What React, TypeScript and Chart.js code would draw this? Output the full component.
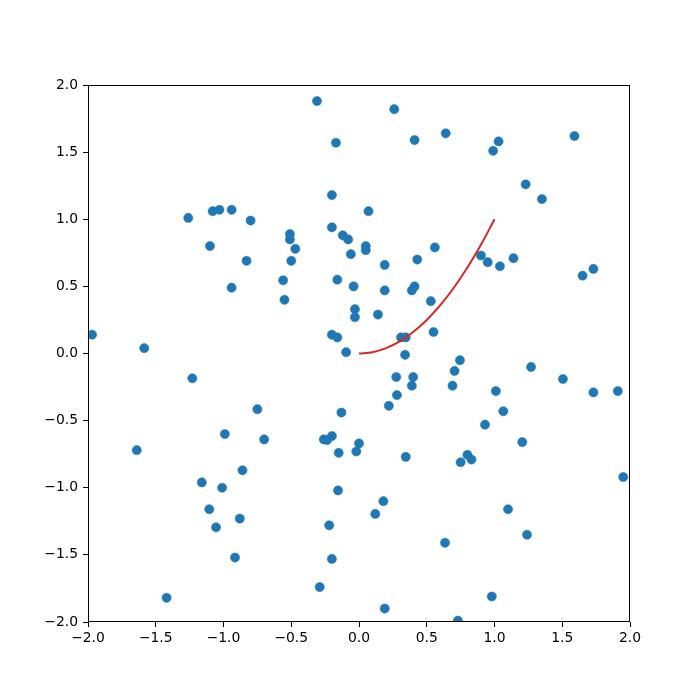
import React, { useEffect, useRef } from "react";
import { Chart, registerables } from "chart.js";

Chart.register(...registerables);

const scatterX: number[] = [
  -0.31, 0.26, 0.41, 0.64, -0.17, 0.99, 1.03, 1.59, 1.23, 1.35,
  0.07, 0.05, 0.05, 0.56, 0.43, 0.19, 0.90, 0.95, 1.04, 1.14,
  1.65, 1.73, -0.04, 0.19, 0.39, 0.41, 0.53, -0.03, -0.03, 0.14,
  0.31, 0.345, 0.55, 0.34, 0.745, -0.20, -1.26, -1.08, -1.03, -0.94,
  -0.80, -0.20, -0.12, -0.08, -0.51, -0.51, -0.47, -1.10, -0.06, -0.83,
  -0.50, -0.56, -0.16, -0.94, -0.55, -1.97, -1.585, -0.20, -0.16, -0.095,
  -1.23, -0.75, -0.13, -0.99, -0.70, -0.26, -0.235, -0.20, 0.00, -0.15,
  -0.02, -1.64, -0.86, -1.16, -1.01, -0.155, -1.105, -0.88, -1.055, -0.22,
  -0.915, -0.20, -0.29, -1.42, 0.275, 0.40, 0.705, 1.27, 0.39, 0.69,
  0.28, 1.505, 1.73, 1.91, 1.01, 0.22, 1.065, 0.93, 1.205, 0.345,
  0.80, 0.75, 0.83, 1.95, 0.18, 0.12, 1.10, 1.24, 0.635, 0.98,
  0.19, 0.73,
];
const scatterY: number[] = [
  1.88, 1.82, 1.59, 1.64, 1.57, 1.51, 1.58, 1.62, 1.26, 1.15,
  1.06, 0.80, 0.77, 0.79, 0.70, 0.66, 0.73, 0.68, 0.65, 0.71,
  0.58, 0.63, 0.50, 0.47, 0.47, 0.50, 0.39, 0.33, 0.27, 0.29,
  0.12, 0.12, 0.16, -0.01, -0.05, 1.18, 1.01, 1.06, 1.07, 1.07,
  0.99, 0.94, 0.88, 0.85, 0.89, 0.85, 0.78, 0.80, 0.74, 0.69,
  0.69, 0.545, 0.55, 0.49, 0.40, 0.14, 0.04, 0.14, 0.12, 0.01,
  -0.185, -0.415, -0.44, -0.60, -0.64, -0.64, -0.645, -0.615, -0.67, -0.74,
  -0.73, -0.72, -0.87, -0.96, -1.00, -1.02, -1.16, -1.23, -1.295, -1.28,
  -1.52, -1.53, -1.74, -1.82, -0.175, -0.175, -0.13, -0.10, -0.24, -0.24,
  -0.31, -0.19, -0.29, -0.28, -0.28, -0.39, -0.43, -0.53, -0.66, -0.77,
  -0.755, -0.81, -0.79, -0.92, -1.10, -1.195, -1.16, -1.35, -1.41, -1.81,
  -1.90, -1.99,
];

const curveX: number[] = [0, 0.1, 0.2, 0.3, 0.4, 0.5, 0.6, 0.7, 0.8, 0.9, 1.0];
const curveY: number[] = [0, 0.01, 0.04, 0.09, 0.16, 0.25, 0.36, 0.49, 0.64, 0.81, 1.0];

const axisMin = -2;
const axisMax = 2;
const tickStep = 0.5;

const fmt = (v: number) => {
  const s = Number(v).toFixed(1);
  return s.startsWith("-") ? "\u2212" + s.slice(1) : s;
};

const framePlugin = {
  id: "frame",
  afterDraw(chart: any) {
    const { ctx, chartArea } = chart;
    const l = Math.round(chartArea.left) + 0.5;
    const t = Math.round(chartArea.top) + 0.5;
    const r = Math.round(chartArea.right) - 0.5;
    const b = Math.round(chartArea.bottom) - 0.5;
    ctx.save();
    ctx.strokeStyle = "#000";
    ctx.lineWidth = 1;
    ctx.strokeRect(l, t, r - l, b - t);
    ctx.restore();
  },
};

export default function App() {
  const ref = useRef<HTMLCanvasElement | null>(null);
  useEffect(() => {
    if (!ref.current) return;
    const font = { family: "DejaVu Sans", size: 13.9 };
    const chart = new Chart(ref.current, {
      type: "scatter",
      data: {
        datasets: [
          {
            type: "line",
            data: curveX.map((x, i) => ({ x, y: curveY[i] })),
            borderColor: "#d62728",
            borderWidth: 2,
            pointRadius: 0,
            fill: false,
            cubicInterpolationMode: "monotone",
            order: 0,
          } as any,
          {
            data: scatterX.map((x, i) => ({ x, y: scatterY[i] })),
            backgroundColor: "#1f77b4",
            borderColor: "#1f77b4",
            borderWidth: 0.5,
            pointRadius: 4.6,
            clip: 0,
            order: 1,
          } as any,
        ],
      },
      options: {
        animation: false,
        responsive: false,
        layout: { padding: { left: 0, right: 70, top: 85, bottom: 0 } },
        plugins: { legend: { display: false }, tooltip: { enabled: false } },
        scales: {
          x: {
            type: "linear",
            min: axisMin,
            max: axisMax,
            afterFit: (s: any) => {
              s.height = 78;
            },
            border: { display: false },
            grid: {
              display: true,
              drawOnChartArea: false,
              drawTicks: true,
              tickLength: 5,
              color: "#000",
              lineWidth: 1,
            },
            ticks: {
              stepSize: tickStep,
              color: "#000",
              font,
              padding: 3,
              maxRotation: 0,
              callback: (v: any) => fmt(v),
            },
          },
          y: {
            type: "linear",
            min: axisMin,
            max: axisMax,
            afterFit: (s: any) => {
              s.width = 88;
            },
            border: { display: false },
            grid: {
              display: true,
              drawOnChartArea: false,
              drawTicks: true,
              tickLength: 5,
              color: "#000",
              lineWidth: 1,
            },
            ticks: {
              stepSize: tickStep,
              color: "#000",
              font,
              padding: 5,
              callback: (v: any) => fmt(v),
            },
          },
        },
      } as any,
      plugins: [framePlugin],
    });
    return () => chart.destroy();
  }, []);
  return (
    <div style={{ position: "absolute", left: 0, top: 0, width: 700, height: 700, background: "#fff" }}>
      <canvas ref={ref} width={700} height={700} style={{ width: 700, height: 700 }} />
    </div>
  );
}
